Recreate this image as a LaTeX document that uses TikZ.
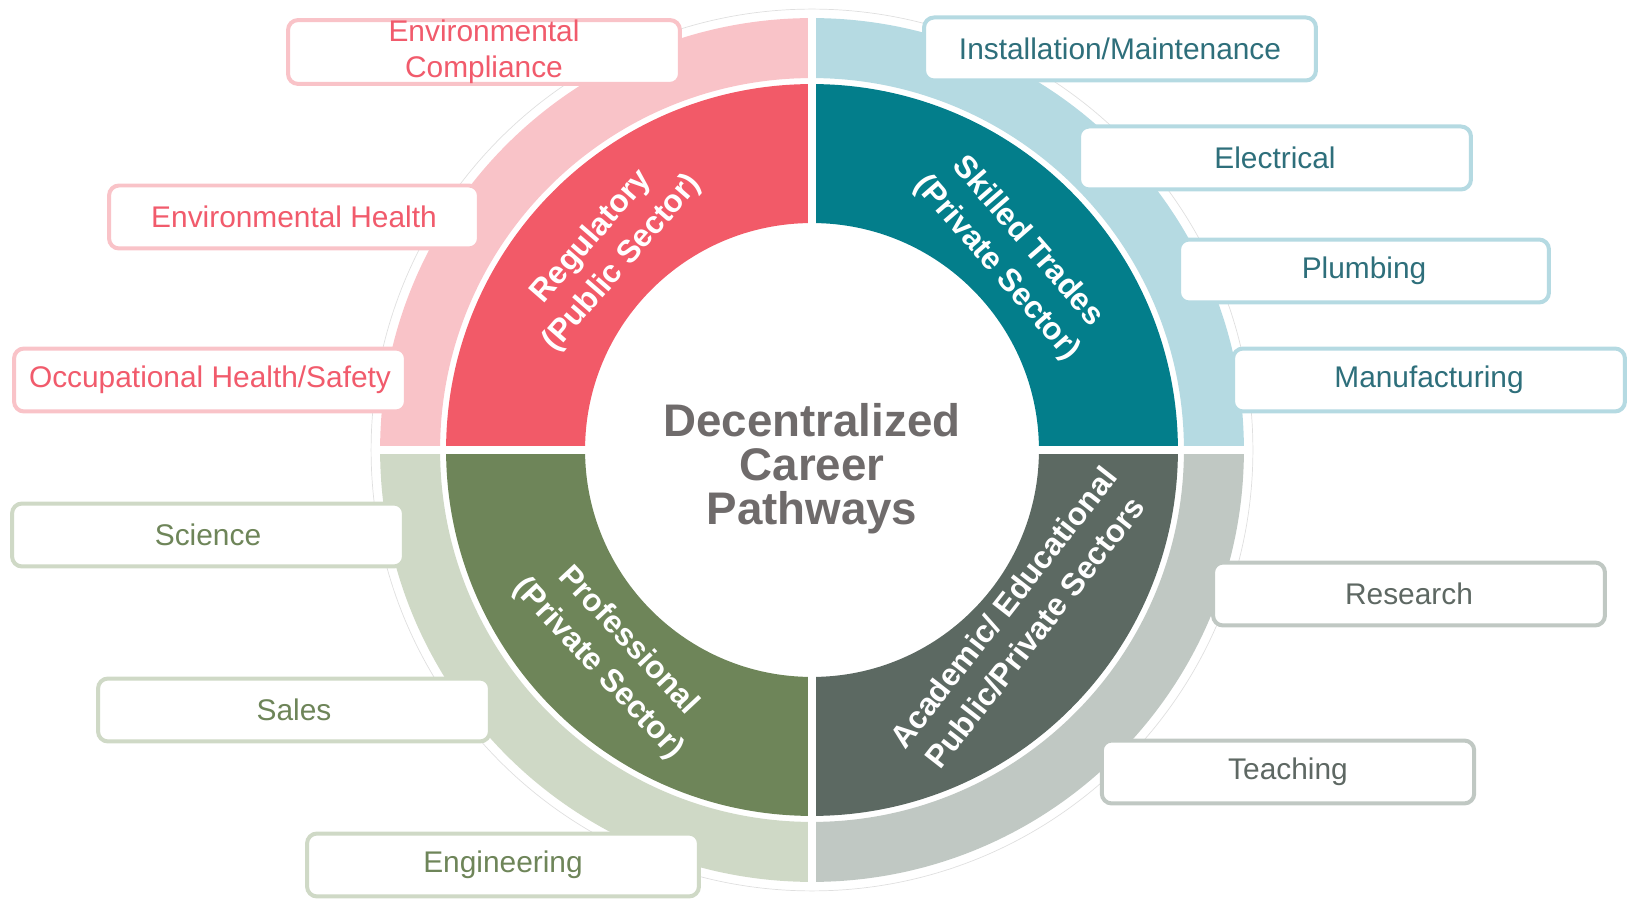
\documentclass[tikz,border=0pt]{standalone}
\usepackage{fontspec}
\setmainfont{Liberation Sans}
\definecolor{regred}{HTML}{F25A68}
\definecolor{regpink}{HTML}{F9C3C8}
\definecolor{regtext}{HTML}{F15B6C}
\definecolor{trteal}{HTML}{037E8B}
\definecolor{trblue}{HTML}{B5DAE2}
\definecolor{trtext}{HTML}{2E6F7B}
\definecolor{acgray}{HTML}{5C6962}
\definecolor{aclight}{HTML}{C0C8C3}
\definecolor{actext}{HTML}{5E6863}
\definecolor{prgreen}{HTML}{6E8559}
\definecolor{prlight}{HTML}{CFD9C6}
\definecolor{titlegray}{HTML}{6F6B6B}
\begin{document}
\begin{tikzpicture}[x=0.02cm, y=-0.02cm,
  path box/.style={draw, fill=white, line width=0.08cm, rounded corners=0.2cm, minimum width=7.84cm, minimum height=1.26cm, inner ysep=0pt, align=center},
  pink box/.style={path box, draw=regpink, text=regtext},
  blue box/.style={path box, draw=trblue, text=trtext},
  green box/.style={path box, draw=prlight, text=prgreen},
  gray box/.style={path box, draw=aclight, text=actext},
  sector label/.style={text=white, align=center, font=\bfseries\fontsize{18}{23}\selectfont}]
        \tikzstyle{every node}=[font=\fontsize{17}{20.5}\selectfont]
        \useasboundingbox (0,0) rectangle (1633,901);

          % the two rings
          \begin{scope}[shift={(812,450)}]
            \draw[gray!25, line width=0.4pt] (0,0) circle[radius=8.82cm];
            \foreach \a/\dark/\light in {90/regred/regpink, 0/trteal/trblue, 270/acgray/aclight, 180/prgreen/prlight}{
              \fill[\dark] (\a:4.54cm) arc[start angle=\a, delta angle=90, radius=4.54cm]
                -- ({\a+90}:7.32cm) arc[start angle=\a+90, delta angle=-90, radius=7.32cm] -- cycle;
              \fill[\light] (\a:7.44cm) arc[start angle=\a, delta angle=90, radius=7.44cm]
                -- ({\a+90}:8.64cm) arc[start angle=\a+90, delta angle=-90, radius=8.64cm] -- cycle;
            }
            \draw[white, line width=0.16cm] (-8.7cm,0) -- (8.7cm,0) (0,-8.7cm) -- (0,8.7cm);
          \end{scope}

          \node[font=\bfseries\fontsize{26}{25}\selectfont, text=titlegray, align=center] (0) at (812,469) {Decentralized\\Career\\Pathways};

          \node[sector label, rotate=49] (1) at (607,250) {Regulatory\\(Public Sector)};
          \node[sector label, rotate=-49] (2) at (1012,255) {Skilled Trades\\(Private Sector)};
          \node[sector label, rotate=52] (3) at (1019,620) {Academic/ Educational\\Public/Private Sectors};
          \node[sector label, rotate=-47] (4) at (613,655) {Professional\\(Private Sector)};

          \node[pink box] (5) at (484,52) {Environmental\\Compliance};
          \node[pink box, minimum width=7.4cm] (6) at (294,217) {Environmental Health};
          \node[pink box] (7) at (210,380) {Occupational Health/Safety};

          \node[blue box] (8) at (1120,49) {Installation/Maintenance};
          \node[blue box] (9) at (1275,158) {Electrical};
          \node[blue box, minimum width=7.4cm] (10) at (1364,271) {Plumbing};
          \node[blue box] (11) at (1429,380) {Manufacturing};

          \node[green box] (12) at (208,535) {Science};
          \node[green box] (13) at (294,710) {Sales};
          \node[green box] (14) at (503,865) {Engineering};

          \node[gray box] (15) at (1409,594) {Research};
          \node[gray box, minimum width=7.45cm] (16) at (1288,772) {Teaching};

        \end{tikzpicture}
\end{document}
